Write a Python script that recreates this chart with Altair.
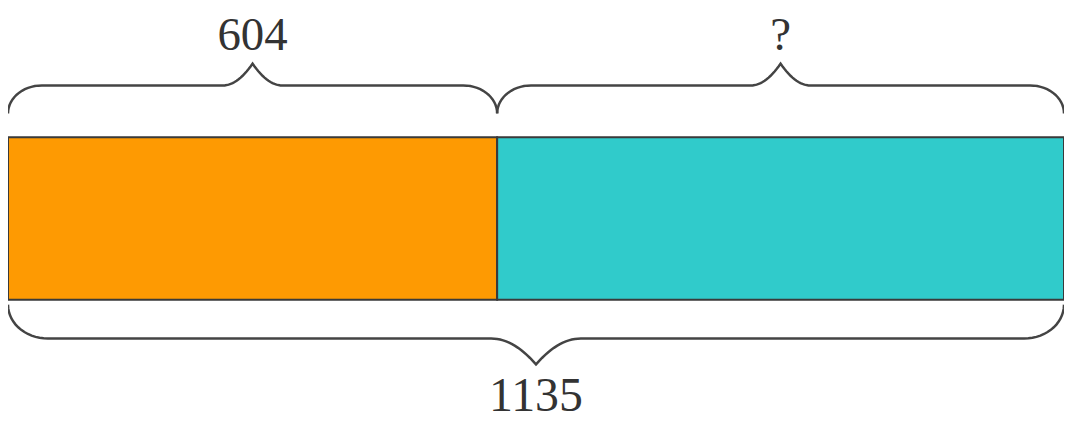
import altair as alt
import pandas as pd
import numpy as np

# Tape diagram content
seg_names = ["part1", "part2"]
seg_labels = ["604", "?"]
seg_colors = ["#FE9A02", "#30CBCB"]
seg_len = [491, 569]          # drawn lengths of the two tape pieces (picture units)
total_label = "1135"

W, H = 1060, 412

# geometry (pixels in the plot area)
BAR_TOP, BAR_BOT = 129, 292
TOP_TIP, TOP_LINE, TOP_PEAK, TOP_TEXT = 105, 77, 55, 27
BOT_TIP, BOT_LINE, BOT_PEAK, BOT_TEXT = 297, 331, 357, 390


def brace(x0, x1, y_tip, y_line, y_peak, q=34, q2=30, n=16):
    mid = (x0 + x1) / 2
    pts = []
    th = np.linspace(0, np.pi / 2, n)
    for t in th:
        pts.append((x0 + q * (1 - np.cos(t)), y_tip + (y_line - y_tip) * np.sin(t)))
    s = np.linspace(0, 1, n)
    for v in s:
        pts.append((mid - q2 * (1 - v), y_line + (y_peak - y_line) * v ** 2))
    for v in s[::-1]:
        pts.append((mid + q2 * (1 - v), y_line + (y_peak - y_line) * v ** 2))
    for t in th[::-1]:
        pts.append((x1 - q * (1 - np.cos(t)), y_tip + (y_line - y_tip) * np.sin(t)))
    return pts


starts = np.concatenate([[0], np.cumsum(seg_len)[:-1]])
ends = np.cumsum(seg_len)
bars = pd.DataFrame({"name": seg_names, "x0": starts, "x1": ends, "color": seg_colors})

brace_rows = []
for i, (a, b) in enumerate(zip(starts, ends)):
    for k, (px, py) in enumerate(brace(a, b, TOP_TIP, TOP_LINE, TOP_PEAK)):
        brace_rows.append({"id": f"top{i}", "ord": k, "x": px, "y": py})
for k, (px, py) in enumerate(brace(0, ends[-1], BOT_TIP, BOT_LINE, BOT_PEAK, q=40, q2=45)):
    brace_rows.append({"id": "bottom", "ord": k, "x": px, "y": py})
braces = pd.DataFrame(brace_rows)

labels = pd.DataFrame({
    "x": list((starts + ends) / 2) + [ends[-1] / 2],
    "y": [TOP_TEXT, TOP_TEXT, BOT_TEXT],
    "text": seg_labels + [total_label],
    "size": [47, 47, 48],
})

xs = alt.Scale(domain=[0, W], range=[0, W])
ys = alt.Scale(domain=[0, H], range=[0, H])

bar_layer = alt.Chart(bars).mark_rect(stroke="#3a3a3a", strokeWidth=2).encode(
    x=alt.X("x0:Q", scale=xs, axis=None),
    x2="x1:Q",
    y=alt.value(BAR_TOP),
    y2=alt.value(BAR_BOT),
    color=alt.Color("color:N", scale=None),
)

brace_layer = alt.Chart(braces).mark_line(color="#444444", strokeWidth=2.5, interpolate="linear").encode(
    x=alt.X("x:Q", scale=xs, axis=None),
    y=alt.Y("y:Q", scale=ys, axis=None),
    detail="id:N",
    order="ord:Q",
)

text_layer = alt.Chart(labels).mark_text(font="Liberation Serif", color="#333333", baseline="middle").encode(
    x=alt.X("x:Q", scale=xs, axis=None),
    y=alt.Y("y:Q", scale=ys, axis=None),
    text="text:N",
    size=alt.Size("size:Q", scale=None, legend=None),
)

chart = alt.layer(bar_layer, brace_layer, text_layer).properties(
    width=W, height=H, padding=0,
    autosize=alt.AutoSizeParams(type="none"),
).configure_view(strokeWidth=0, strokeOpacity=0, fill="white", fillOpacity=0)

chart.save("out.html", embed_options={"renderer": "svg", "actions": False})
